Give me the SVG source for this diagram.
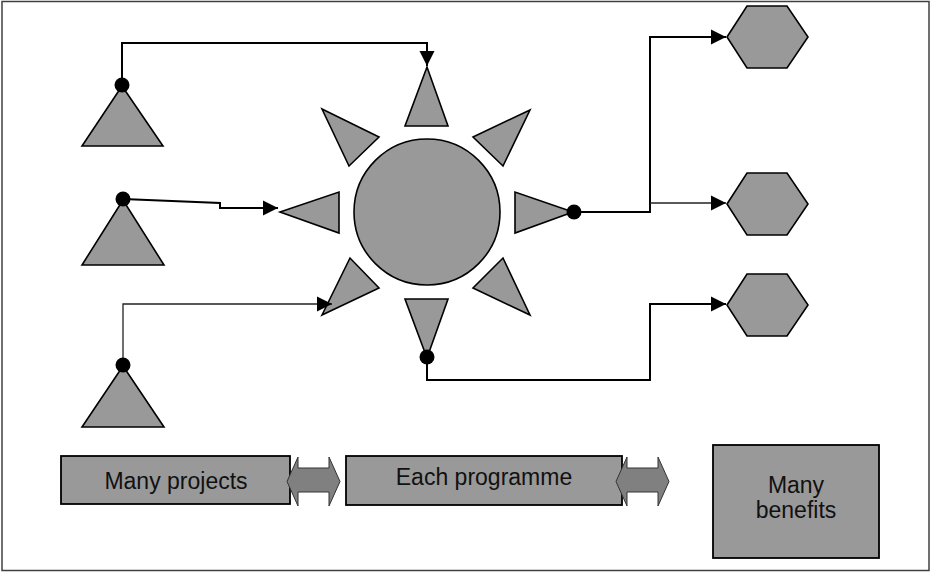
<svg xmlns="http://www.w3.org/2000/svg" width="930" height="572" viewBox="0 0 930 572">
<style>
.shape{fill:#999999;stroke:#000;stroke-width:1.6;stroke-linejoin:miter}
.dbl{fill:#808080;stroke:#333;stroke-width:1}
.box{fill:#999999;stroke:#000;stroke-width:1.8}
.conn{fill:none;stroke:#000;stroke-width:2}
.thin{fill:none;stroke:#222;stroke-width:1.3}
.dot{fill:#000}
.lbl{font-family:"Liberation Sans",Arial,sans-serif;font-size:23px;fill:#111;text-anchor:middle}
</style>
<defs>
<marker id="arr" markerUnits="userSpaceOnUse" markerWidth="16" markerHeight="16" refX="15" refY="8" orient="auto">
<path d="M0,0.5 L15,8 L0,15.5 z" fill="#000"/>
</marker>
</defs>
<rect x="2" y="1.5" width="927" height="569" fill="#fff" stroke="#404040" stroke-width="1.5"/>

<g id="project1"><polygon class="shape" points="122,86 82,146 163,146"/></g>
<g id="project2"><polygon class="shape" points="123,200 82,265 164,265"/></g>
<g id="project3"><polygon class="shape" points="123,366 82,427 164,427"/></g>

<g id="programme">
<circle class="shape" cx="427" cy="212" r="73"/>
<polygon class="shape" points="427,67 405,126 448,126"/>
<polygon class="shape" points="427,358 405,299 448,299"/>
<polygon class="shape" points="280,212 339,192 339,233"/>
<polygon class="shape" points="573,212 515,192 515,233"/>
<polygon class="shape" points="322,109 379,137 349,166"/>
<polygon class="shape" points="530,110 473,137 503,166"/>
<polygon class="shape" points="322,315 350,258 379,288"/>
<polygon class="shape" points="530,315 503,258 473,288"/>
</g>

<g id="benefit1"><polygon class="shape" points="727,37 747,6 787,6 808,37 787,68 747,68"/></g>
<g id="benefit2"><polygon class="shape" points="727,204 747,173 787,173 808,204 787,235 747,235"/></g>
<g id="benefit3"><polygon class="shape" points="727,305 747,274 787,274 808,305 787,336 747,336"/></g>

<g id="connectors">
<path class="conn" d="M122,84 V43 H427 V66" marker-end="url(#arr)"/>
<path class="conn" d="M123,199 L220,203 V208 H278" marker-end="url(#arr)"/>
<path class="thin" d="M123,365 V304 H332" marker-end="url(#arr)"/>
<path class="conn" d="M574,212 H650 V37 H726" marker-end="url(#arr)"/>
<path class="thin" d="M650,203 H726" marker-end="url(#arr)"/>
<path class="conn" d="M427,357 V380 H650 V304 H726" marker-end="url(#arr)"/>
<circle class="dot" cx="122" cy="85" r="7.5"/>
<circle class="dot" cx="123" cy="199" r="7.5"/>
<circle class="dot" cx="123" cy="365" r="7.5"/>
<circle class="dot" cx="574" cy="212" r="7.5"/>
<circle class="dot" cx="427" cy="357" r="7.5"/>
</g>

<g id="many-projects">
<rect class="box" x="61" y="456" width="229" height="48"/>
<text class="lbl" x="176" y="489">Many projects</text>
</g>
<g id="arrow1"><polygon class="dbl" points="287,481.5 298,457 298,468 329,468 329,457 340,481.5 329,506 329,492 298,492 298,506"/></g>
<g id="each-programme">
<rect class="box" x="346" y="456" width="276" height="49"/>
<text class="lbl" x="484" y="485">Each programme</text>
</g>
<g id="arrow2"><polygon class="dbl" points="616,481.5 627,457 627,468 658,468 658,457 669,481.5 658,506 658,492 627,492 627,506"/></g>
<g id="many-benefits">
<rect class="box" x="713" y="445" width="166" height="113"/>
<text class="lbl" x="796" y="493">Many</text>
<text class="lbl" x="796" y="518">benefits</text>
</g>
</svg>
